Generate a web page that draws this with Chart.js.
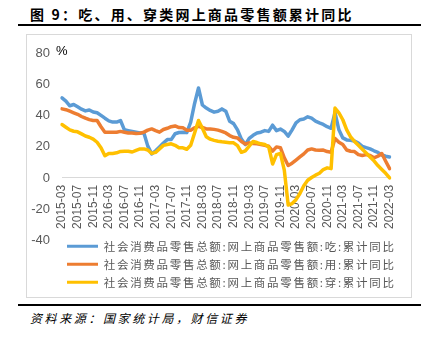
<!DOCTYPE html>
<html><head><meta charset="utf-8">
<script src="https://cdn.jsdelivr.net/npm/chart.js@4.4.1/dist/chart.umd.min.js"></script>
<style>
html,body{margin:0;padding:0;background:#fff;width:431px;height:338px;overflow:hidden;font-family:"Noto Sans CJK SC";}
#title{position:absolute;left:30px;top:4px;font-size:14px;font-weight:bold;letter-spacing:2.2px;color:#000;white-space:nowrap;line-height:20px;}
#rule1{position:absolute;left:18px;top:24px;width:403px;height:2px;background:#000;}
#box{position:absolute;left:26px;top:34px;width:384px;height:262px;border:1px solid #d9d9d9;}
#wrap{position:absolute;left:26px;top:34px;width:385px;height:270px;}
#pct{position:absolute;left:56px;top:43px;font:13px "Liberation Sans";color:#000;}
#rule2{position:absolute;left:18px;top:304px;width:403px;height:2px;background:#000;}
#src{position:absolute;left:30px;top:310px;font-size:12px;font-style:italic;letter-spacing:2.6px;line-height:16px;color:#000;white-space:nowrap;}
</style>
</head><body>
<div id="title">图 9：吃、用、穿类网上商品零售额累计同比</div>
<div id="rule1"></div>
<div id="box"></div>
<div id="wrap"><canvas id="c" width="385" height="270"></canvas></div>
<div id="pct">%</div>
<div id="rule2"></div>
<div id="src">资料来源：国家统计局，财信证券</div>
<script>
const categories = [
 '2015-03','2015-04','2015-05','2015-06','2015-07','2015-08','2015-09','2015-10','2015-11','2015-12',
 '2016-01','2016-02','2016-03','2016-04','2016-05','2016-06','2016-07','2016-08','2016-09','2016-10','2016-11','2016-12',
 '2017-01','2017-02','2017-03','2017-04','2017-05','2017-06','2017-07','2017-08','2017-09','2017-10','2017-11','2017-12',
 '2018-01','2018-02','2018-03','2018-04','2018-05','2018-06','2018-07','2018-08','2018-09','2018-10','2018-11','2018-12',
 '2019-01','2019-02','2019-03','2019-04','2019-05','2019-06','2019-07','2019-08','2019-09','2019-10','2019-11','2019-12',
 '2020-01','2020-02','2020-03','2020-04','2020-05','2020-06','2020-07','2020-08','2020-09','2020-10','2020-11','2020-12',
 '2021-01','2021-02','2021-03','2021-04','2021-05','2021-06','2021-07','2021-08','2021-09','2021-10','2021-11','2021-12',
 '2022-01','2022-02','2022-03'
];
const seriesNames = [
 '社会消费品零售总额:网上商品零售额:吃:累计同比',
 '社会消费品零售总额:网上商品零售额:用:累计同比',
 '社会消费品零售总额:网上商品零售额:穿:累计同比'
];
const foodValues = [
 51.6,49.5,46.5,47.3,45.8,44.3,43.2,43.8,42.5,42,
 40.3,38.5,36.8,36,36,37,31,30.5,30,29.5,29,29,
 20.5,15.5,17.5,20,22.5,24.7,24.7,28.5,29.3,29.5,29.2,36,
 48,58,47,45,43.5,42.4,43,44.5,43,36.5,35,31,
 25,21.5,25.5,27.5,29,29.5,30.5,30,34,30.5,31.5,30,
 27,31,35.5,37.5,38,39.4,38.5,36.6,35.5,34.5,33,32,
 42,31,25.8,24.5,24.3,23.7,22.5,20.4,19.5,18.7,17.5,16.5,
 14.8,14,13.5
];
const goodsValues = [
 44.5,44,43,42,41,39.6,38.5,37.6,37,37,
 33,29.5,29.5,29.5,29.5,30,29.5,29,29,28.6,28.8,29.5,
 30.8,31.6,30.5,29.5,31.2,32,33,33.5,32.5,32.3,30.8,30.8,
 32.3,33.3,32.5,31.6,31.6,31.3,30.8,30,29,27.3,26.2,25.8,
 23.5,21.9,22.6,22.2,22,21.5,21,20.4,17.3,20,19.5,13,
 8,9.5,11.5,13.5,15.5,18,18.7,18,17.8,18,17,16.6,
 25.5,23,21.5,18,17.2,17,15,14.5,15,14.5,13,14,
 15.7,10.8,6
];
const clothingValues = [
 34.4,32.7,31,30.1,29.7,28.4,27,26.2,25,23,
 19.5,14.3,15.8,15.8,16.2,17.1,17.2,17.2,16.7,17.8,18.7,18.7,
 18,15.8,16.5,18.7,21,21.5,22,21,19.4,19.4,18.5,21,
 29,37,32,26.5,25,24.2,23.7,23.3,23,22.7,22.6,20.8,
 16.5,17.5,20.5,23.5,22.8,22,21.5,20,9,15,15.8,5,
 -17.5,-16.5,-14,-10,-5,-1.5,0.3,1.8,3,5.4,6.5,6,
 45,42,37.5,31,26.5,23.5,21,18.5,16,13.5,11,8,
 5.5,3,0
];
const yTicks = [-40,-20,0,20,40,60,80];
const colors = ['#5B9BD5','#ED7D31','#FFC000'];

const legendShift = {
  id: 'legendShift',
  afterLayout(c) {
    const lg = c.legend;
    lg.left += 29.5;
    lg.top -= 6;
    if (!lg._spaced) {
      const orig = lg.draw;
      lg.draw = function (...a) {
        const ctx = this.ctx;
        ctx.save();
        ctx.letterSpacing = '1.7px';
        orig.apply(this, a);
        ctx.restore();
      };
      lg._spaced = true;
    }
  }
};

const valuesList = [foodValues, goodsValues, clothingValues];
new Chart(document.getElementById('c'), {
  type: 'line',
  data: {
    labels: categories,
    datasets: valuesList.map((vals, k) => ({
      label: seriesNames[k],
      data: vals,
      borderColor: colors[k],
      backgroundColor: colors[k],
      borderWidth: 3.5,
      pointRadius: 0,
      tension: 0,
      fill: false,
      order: 3 - k,
      borderJoinStyle: 'round',
      borderCapStyle: 'round'
    }))
  },
  options: {
    responsive: false,
    animation: false,
    layout: { padding: { left: 5, right: 8.3, top: 17, bottom: 0 } },
    plugins: {
      tooltip: { enabled: false },
      legend: {
        position: 'bottom',
        align: 'start',
        labels: {
          boxWidth: 31, boxHeight: 3, padding: 6.5, color: '#595959',
          font: { size: 11.5, family: '"Noto Sans CJK SC"' },
          generateLabels(chart) {
            const items = Chart.defaults.plugins.legend.labels.generateLabels(chart);
            items.sort((a, b) => a.datasetIndex - b.datasetIndex);
            items.forEach(it => { it.lineWidth = 0; it.fillStyle = colors[it.datasetIndex]; });
            return items;
          }
        }
      }
    },
    scales: {
      x: {
        type: 'category',
        position: { y: 0 },
        offset: false,
        grid: { display: false, drawTicks: false },
        border: { display: true, color: '#d9d9d9', width: 1 },
        ticks: {
          autoSkip: false, maxRotation: 90, minRotation: 90, padding: 7,
          color: '#595959', font: { size: 12, family: '"Liberation Sans"' },
          callback(v, i) { return i % 4 === 0 ? this.getLabelForValue(v) : ''; }
        },
        afterFit(s) { s.height = 0; }
      },
      y: {
        min: yTicks[0], max: yTicks[yTicks.length - 1],
        afterBuildTicks(s) { s.ticks = yTicks.map(v => ({ value: v })); },
        grid: { display: false, drawTicks: false },
        border: { display: false },
        ticks: { padding: 12, color: '#595959', font: { size: 13, family: '"Liberation Sans"' } },
        afterFit(s) { s.width = 31; }
      }
    }
  },
  plugins: [legendShift]
});
</script>
</body></html>
